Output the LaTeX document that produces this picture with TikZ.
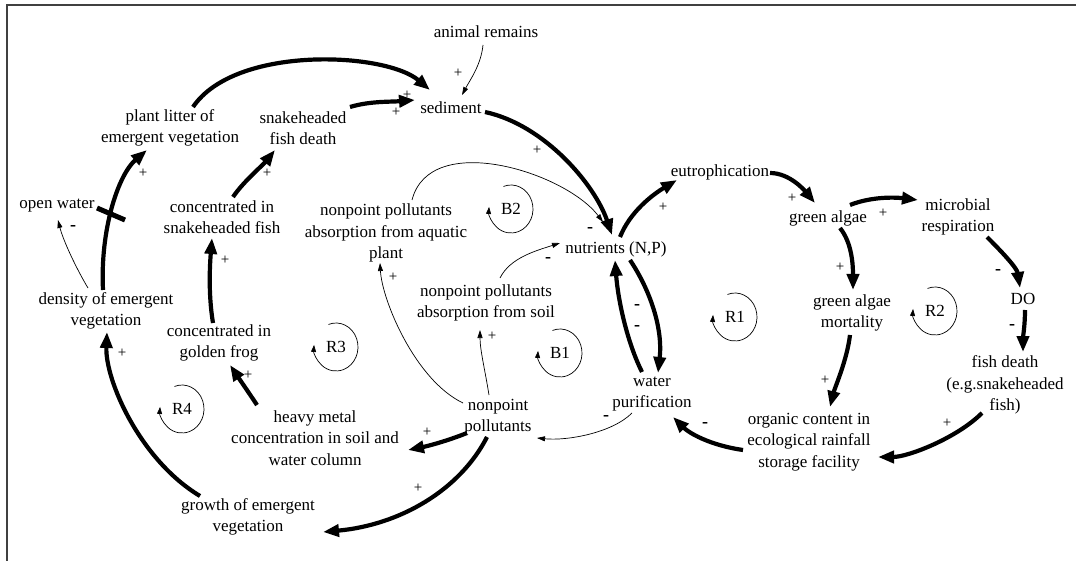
\documentclass[tikz,border=0pt]{standalone}
\usepackage{fontspec}
\setmainfont{Liberation Serif}
\usetikzlibrary{arrows.meta}
\begin{document}
\begin{tikzpicture}[x=1pt,y=-1pt,
  var/.style={align=center,inner sep=0pt,font=\fontsize{17}{21.5}\selectfont},
  pol/.style={inner sep=0pt,font=\fontsize{15}{15}\selectfont},
  neg/.style={inner sep=0pt,font=\fontsize{18}{18}\selectfont\bfseries},
  strongarr/.style={line width=4.2pt,-{Triangle[length=16pt,width=12pt]}},
  weakarr/.style={line width=0.7pt,-{Triangle[length=8pt,width=5pt]}},
  looplbl/.style={inner sep=0pt,font=\fontsize{17}{17}\selectfont},
  loopline/.style={line width=0.7pt,-{Triangle[length=7pt,width=5pt]}},
  framestyle/.style={line width=2pt,black!75}]
\useasboundingbox (0,0) rectangle (1076,561);
\draw[framestyle] (7,561) -- (7,5) -- (1076,5);

% variables
\node[var] (anim) at (486,32) {animal remains};
\node[var] (sed) at (451,108) {sediment};
\node[var] (litter) at (170,128) {plant litter of\\emergent vegetation};
\node[var] (sfd) at (303,128) {snakeheaded\\fish death};
\node[var] (ow) at (57,206) {open water};
\node[var] (csf) at (222,217) {concentrated in\\snakeheaded fish};
\node[var] (dens) at (106,311) {density of emergent\\vegetation};
\node[var] (cgf) at (219,343) {concentrated in\\golden frog};
\node[var] (hm) at (315,438) {heavy metal\\concentration in soil and\\water column};
\node[var] (npp) at (498,417) {nonpoint\\pollutants};
\node[var] (growth) at (248,517) {growth of emergent\\vegetation};
\node[var] (aqp) at (386,233) {nonpoint pollutants\\absorption from aquatic\\plant};
\node[var] (soil) at (486,303) {nonpoint pollutants\\absorption from soil};
\node[var] (nut) at (616,249) {nutrients (N,P)};
\node[var] (wp) at (652,394) {water\\purification};
\node[var] (eut) at (720,172) {eutrophication};
\node[var] (ga) at (828,218) {green algae};
\node[var] (mr) at (958,217) {microbial\\respiration};
\node[var] (gam) at (852,313) {green algae\\mortality};
\node[var] (DO) at (1023,299) {DO};
\node[var] (fd) at (1005,385) {fish death\\(e.g.snakeheaded\\fish)};
\node[var] (org) at (809,442) {organic content in\\ecological rainfall\\storage facility};

% polarity signs
\node[pol] (p1) at (407,95) {+};
\node[pol] (p2) at (396,112) {+};
\node[pol] (p3) at (458,73) {+};
\node[pol] (p4) at (537,150) {+};
\node[pol] (p5) at (267,173) {+};
\node[pol] (p6) at (143,173) {+};
\node[neg] (p7) at (73,228) {-};
\node[pol] (p8) at (225,260) {+};
\node[pol] (p9) at (122,353) {+};
\node[pol] (p10) at (248,375) {+};
\node[pol] (p11) at (427,432) {+};
\node[pol] (p12) at (418,488) {+};
\node[neg] (p13) at (606,418) {-};
\node[pol] (p14) at (393,277) {+};
\node[pol] (p15) at (492,336) {+};
\node[neg] (p16) at (590,230) {-};
\node[neg] (p17) at (548,260) {-};
\node[pol] (p18) at (663,207) {+};
\node[pol] (p19) at (792,198) {+};
\node[pol] (p20) at (883,213) {+};
\node[pol] (p21) at (840,267) {+};
\node[neg] (p22) at (998,272) {-};
\node[neg] (p23) at (1012,327) {-};
\node[pol] (p24) at (825,380) {+};
\node[pol] (p25) at (947,423) {+};
\node[neg] (p26) at (705,425) {-};
\node[neg] (p27) at (637,307) {-};
\node[neg] (p28) at (637,328) {-};

% connectors
\draw[strongarr] ([shift={(23,-21)}]litter.center) .. controls +(42,-62) and +(-45,-38) .. ([shift={(-21,-18)}]sed.center);
\draw[strongarr] ([shift={(47,-21)}]sfd.center) .. controls +(20,-6) and +(-25,2) .. ([shift={(-36,-8)}]sed.center);
\draw[weakarr] ([shift={(-3,13)}]anim.center) .. controls +(-2,20) and +(8,-15) .. ([shift={(11,-13)}]sed.center);
\draw[strongarr] ([shift={(34,4)}]sed.center) .. controls +(60,13) and +(-17,-50) .. ([shift={(-4,-14)}]nut.center);
\draw[strongarr] ([shift={(11,-20)}]csf.center) .. controls +(10,-15) and +(-12,15) .. ([shift={(-28,22)}]sfd.center);
\draw[strongarr] ([shift={(-3,-21)}]dens.center) .. controls +(-3,-60) and +(-29,25) .. ([shift={(-23,22)}]litter.center);
\draw[line width=5pt] ([shift={(-9,-103)}]dens.center) -- ([shift={(19,-91)}]dens.center);
\draw[weakarr] ([shift={(-18,-23)}]dens.center) .. controls +(-12,-20) and +(5,20) .. ([shift={(1,14)}]ow.center);
\draw[strongarr] ([shift={(-6,-20)}]cgf.center) .. controls +(-5,-30) and +(-2,25) .. ([shift={(-10,21)}]csf.center);
\draw[strongarr] ([shift={(-48,-21)}]growth.center) .. controls +(-60,-36) and +(-2,48) .. ([shift={(1,21)}]dens.center);
\draw[strongarr] ([shift={(-58,-33)}]hm.center) .. controls +(-10,-15) and +(8,12) .. ([shift={(11,22)}]cgf.center);
\draw[strongarr] ([shift={(-31,16)}]npp.center) .. controls +(-20,8) and +(20,-4) .. ([shift={(93,12)}]hm.center);
\draw[strongarr] ([shift={(-11,20)}]npp.center) .. controls +(-27,53) and +(77,-7) .. ([shift={(75,15)}]growth.center);
\draw[weakarr] ([shift={(-20,19)}]wp.center) .. controls +(-20,20) and +(30,3) .. ([shift={(39,21)}]npp.center);
\draw[weakarr] ([shift={(-35,-14)}]npp.center) .. controls +(-48,-23) and +(2,37) .. ([shift={(-6,30)}]aqp.center);
\draw[weakarr] ([shift={(-9,-22)}]npp.center) .. controls +(-4,-25) and +(0,20) .. ([shift={(-6,27)}]soil.center);
\draw[weakarr] ([shift={(26,-33)}]aqp.center) .. controls +(18,-70) and +(-38,-50) .. ([shift={(-13,-27)}]nut.center);
\draw[weakarr] ([shift={(14,-25)}]soil.center) .. controls +(10,-20) and +(-25,8) .. ([shift={(-56,-6)}]nut.center);
\draw[strongarr] ([shift={(4,-12)}]nut.center) .. controls +(10,-25) and +(-25,15) .. ([shift={(-43,8)}]eut.center);
\draw[strongarr] ([shift={(50,1)}]eut.center) .. controls +(20,0) and +(-10,-12) .. ([shift={(-13,-15)}]ga.center);
\draw[strongarr] ([shift={(22,-13)}]ga.center) .. controls +(20,-8) and +(-25,-3) .. ([shift={(-40,-17)}]mr.center);
\draw[strongarr] ([shift={(12,10)}]ga.center) .. controls +(12,15) and +(0,-25) .. ([shift={(1,-23)}]gam.center);
\draw[strongarr] ([shift={(29,20)}]mr.center) .. controls +(15,15) and +(-3,-20) .. ([shift={(-3,-11)}]DO.center);
\draw[strongarr] ([shift={(2,11)}]DO.center) .. controls +(0,15) and +(0,-15) .. ([shift={(18,-33)}]fd.center);
\draw[strongarr] ([shift={(-2,22)}]gam.center) .. controls +(-3,25) and +(5,-20) .. ([shift={(21,-35)}]org.center);
\draw[strongarr] ([shift={(-23,28)}]fd.center) .. controls +(-25,25) and +(30,0) .. ([shift={(69,15)}]org.center);
\draw[strongarr] ([shift={(-66,8)}]org.center) .. controls +(-35,-5) and +(15,15) .. ([shift={(21,23)}]wp.center);
\draw[strongarr] ([shift={(14,11)}]nut.center) .. controls +(20,30) and +(5,-45) .. ([shift={(6,-21)}]wp.center);
\draw[strongarr] ([shift={(-10,-22)}]wp.center) .. controls +(-15,-30) and +(3,40) .. ([shift={(-1,11)}]nut.center);

% loop identifiers
\foreach \n/\t/\px/\py in {R1/R1/735/317, R2/R2/935/311, R3/R3/336/347, R4/R4/182/409, B1/B1/560/353, B2/B2/511/209}{
  \node[looplbl] (\n) at (\px,\py) {\t};
  \draw[loopline] (\n.center) ++(-110:22 and 24) arc[start angle=-110, end angle=185, x radius=22, y radius=24];
}
\end{tikzpicture}
\end{document}
